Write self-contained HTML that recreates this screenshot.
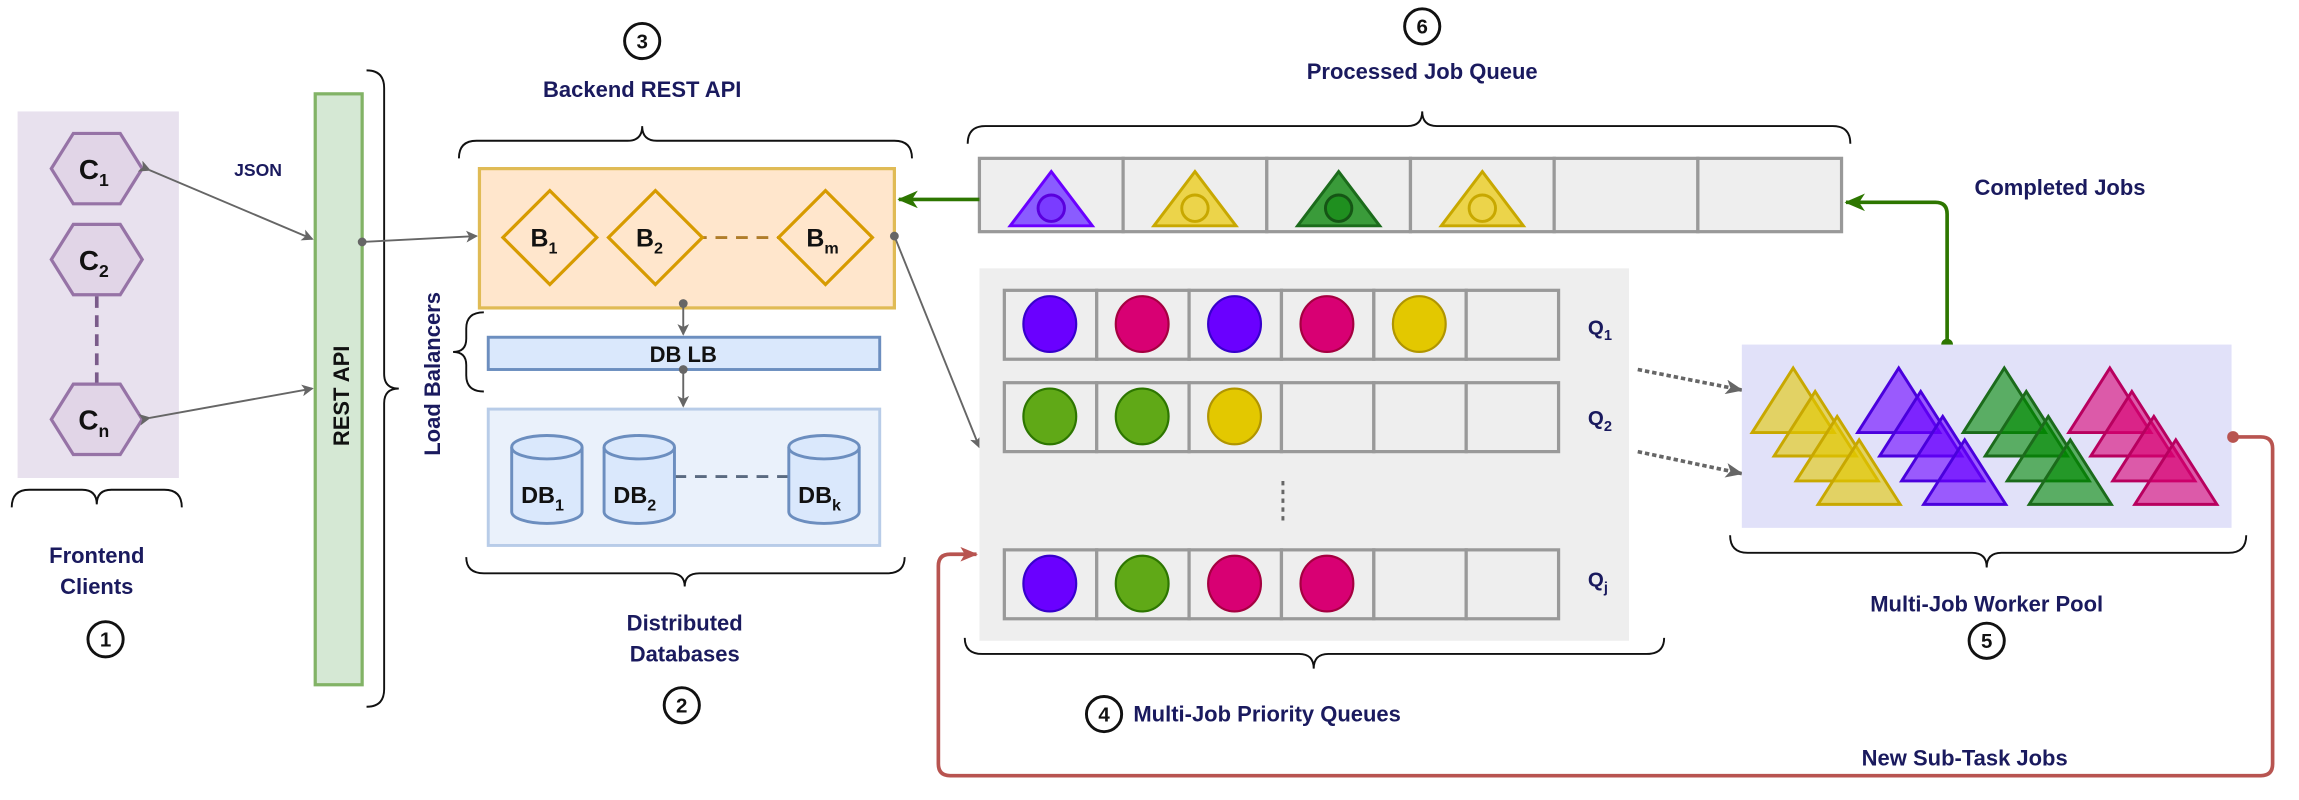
<!DOCTYPE html>
<html><head><meta charset="utf-8"><style>
html,body{margin:0;padding:0;background:#fff;}
svg{display:block;}
text{font-family:"Liberation Sans",sans-serif;font-weight:bold;}
</style></head><body>
<svg width="2299" height="800" viewBox="0 0 1568 545.6" preserveAspectRatio="none" xmlns="http://www.w3.org/2000/svg">
<defs>
<marker id="ag" markerWidth="8" markerHeight="8" refX="7" refY="4" orient="auto" markerUnits="userSpaceOnUse"><path d="M0,0 L8,4 L0,8 L2,4z" fill="#666"/></marker>
<marker id="agr" markerWidth="12" markerHeight="10" refX="11" refY="5" orient="auto" markerUnits="userSpaceOnUse"><path d="M0,0 L12,5 L0,10 L3,5z" fill="#666"/></marker>
<marker id="agn" markerWidth="14" markerHeight="12" refX="13" refY="6" orient="auto" markerUnits="userSpaceOnUse"><path d="M0,0 L14,6 L0,12 L4,6z" fill="#2d7600"/></marker>
<marker id="ar" markerWidth="12" markerHeight="10" refX="11" refY="5" orient="auto" markerUnits="userSpaceOnUse"><path d="M0,0 L12,5 L0,10 L3,5z" fill="#b85450"/></marker>
</defs>
<g fill="none" stroke="#111" stroke-width="1.3">
<path d="M8,346 Q8,334 20,334 L56,334 Q66,334 66,344 Q66,334 76,334 L112,334 Q124,334 124,346"/>
<path d="M250,48 Q262,48 262,60 L262,255 Q262,265 272,265 Q262,265 262,275 L262,470 Q262,482 250,482"/>
<path d="M313,108 Q313,96 325,96 L428,96 Q438,96 438,86 Q438,96 448,96 L610,96 Q622,96 622,108"/>
<path d="M330,213 Q318,213 318,224 L318,231 Q318,240 309,240 Q318,240 318,249 L318,256 Q318,267 330,267"/>
<path d="M318,380 Q318,391 330,391 L457,391 Q467,391 467,400 Q467,391 477,391 L605,391 Q617,391 617,380"/>
<path d="M660,98 Q660,86 672,86 L960,86 Q970,86 970,76 Q970,86 980,86 L1250,86 Q1262,86 1262,98"/>
<path d="M658,435 Q658,446 670,446 L886,446 Q896,446 896,456 Q896,446 906,446 L1123,446 Q1135,446 1135,435"/>
<path d="M1180,365 Q1180,377 1192,377 L1345,377 Q1355,377 1355,387 Q1355,377 1365,377 L1520,377 Q1532,377 1532,365"/>
</g>
<rect x="12" y="76" width="110" height="250" fill="#e8e1ee"/>
<line x1="66" y1="202" x2="66" y2="262" stroke="#7a5b8a" stroke-width="2.5" stroke-dasharray="8,5"/>
<g fill="#e1d5e7" stroke="#9673a6" stroke-width="2.2">
<polygon points="35,115 50,91 82,91 97,115 82,139 50,139"/>
<polygon points="35,177 50,153 82,153 97,177 82,201 50,201"/>
<polygon points="35,286 50,262 82,262 97,286 82,310 50,310"/>
</g>
<g fill="#111" font-size="19" text-anchor="middle">
<text x="64" y="122">C<tspan font-size="12" dy="5">1</tspan></text>
<text x="64" y="184">C<tspan font-size="12" dy="5">2</tspan></text>
<text x="64" y="293">C<tspan font-size="12" dy="5">n</tspan></text>
</g>
<text x="66" y="384" font-size="15" fill="#1a1a5e" text-anchor="middle">Frontend</text>
<text x="66" y="405" font-size="15" fill="#1a1a5e" text-anchor="middle">Clients</text>
<rect x="215" y="64" width="32" height="403" fill="#d5e8d4" stroke="#82b366" stroke-width="2.2"/>
<text transform="translate(238,270) rotate(-90)" font-size="15" fill="#111" text-anchor="middle">REST API</text>
<text transform="translate(300,255) rotate(-90)" font-size="15" fill="#1a1a5e" text-anchor="middle">Load Balancers</text>
<text x="176" y="120" font-size="12" fill="#1a1a5e" text-anchor="middle">JSON</text>
<line x1="102" y1="116" x2="213" y2="163" stroke="#666" stroke-width="1.3" marker-end="url(#ag)" marker-start="url(#ag)"/>
<line x1="102" y1="285" x2="213" y2="265" stroke="#666" stroke-width="1.3" marker-end="url(#ag)" marker-start="url(#ag)"/>
<line x1="247" y1="165" x2="325" y2="161" stroke="#666" stroke-width="1.3" marker-end="url(#ag)"/>
<circle cx="247" cy="165" r="3" fill="#666"/>
<text x="438" y="66" font-size="15" fill="#1a1a5e" text-anchor="middle">Backend REST API</text>
<rect x="327" y="115" width="283" height="95" fill="#ffe6cc" stroke="#e0bb55" stroke-width="2.2"/>
<line x1="474" y1="162" x2="540" y2="162" stroke="#b07d2a" stroke-width="2" stroke-dasharray="8,6"/>
<g fill="#ffe6cc" stroke="#d79b00" stroke-width="2.2">
<polygon points="375,130 407,162 375,194 343,162"/>
<polygon points="447,130 479,162 447,194 415,162"/>
<polygon points="563,130 595,162 563,194 531,162"/>
</g>
<g fill="#111" font-size="17" text-anchor="middle">
<text x="371" y="168">B<tspan font-size="11" dy="5">1</tspan></text>
<text x="443" y="168">B<tspan font-size="11" dy="5">2</tspan></text>
<text x="561" y="168">B<tspan font-size="11" dy="5">m</tspan></text>
</g>
<line x1="610" y1="161" x2="668" y2="305" stroke="#666" stroke-width="1.3" marker-end="url(#ag)"/>
<circle cx="610" cy="161" r="3" fill="#666"/>
<line x1="466" y1="207" x2="466" y2="228" stroke="#666" stroke-width="1.3" marker-end="url(#ag)"/>
<circle cx="466" cy="207" r="3" fill="#666"/>
<rect x="333" y="230" width="267" height="22" fill="#dae8fc" stroke="#6c8ebf" stroke-width="2"/>
<text x="466" y="247" font-size="15" fill="#111" text-anchor="middle">DB LB</text>
<line x1="466" y1="252" x2="466" y2="277" stroke="#666" stroke-width="1.3" marker-end="url(#ag)"/>
<circle cx="466" cy="252" r="3" fill="#666"/>
<rect x="333" y="279" width="267" height="93" fill="#eaf1fb" stroke="#b8cce8" stroke-width="2"/>
<line x1="460" y1="325" x2="538" y2="325" stroke="#5a6a80" stroke-width="2" stroke-dasharray="8,6"/>
<g fill="#dae8fc" stroke="#6c8ebf" stroke-width="2">
<path d="M349,305 L349,349 A24,8 0 0 0 397,349 L397,305"/><ellipse cx="373" cy="305" rx="24" ry="8"/>
<path d="M412,305 L412,349 A24,8 0 0 0 460,349 L460,305"/><ellipse cx="436" cy="305" rx="24" ry="8"/>
<path d="M538,305 L538,349 A24,8 0 0 0 586,349 L586,305"/><ellipse cx="562" cy="305" rx="24" ry="8"/>
</g>
<g fill="#111" font-size="16" text-anchor="middle">
<text x="370" y="343">DB<tspan font-size="11" dy="5">1</tspan></text>
<text x="433" y="343">DB<tspan font-size="11" dy="5">2</tspan></text>
<text x="559" y="343">DB<tspan font-size="11" dy="5">k</tspan></text>
</g>
<text x="467" y="430" font-size="15" fill="#1a1a5e" text-anchor="middle">Distributed</text>
<text x="467" y="451" font-size="15" fill="#1a1a5e" text-anchor="middle">Databases</text>
<g fill="#fff" stroke="#111" stroke-width="2">
<circle cx="72" cy="436" r="12"/><circle cx="465" cy="481" r="12"/><circle cx="438" cy="28" r="12"/>
<circle cx="753" cy="487" r="12"/><circle cx="1355" cy="437" r="12"/><circle cx="970" cy="18" r="12"/>
</g>
<g fill="#111" font-size="14" text-anchor="middle" font-weight="bold">
<text x="72" y="441">1</text><text x="465" y="486">2</text><text x="438" y="33">3</text>
<text x="753" y="492">4</text><text x="1355" y="442">5</text><text x="970" y="23">6</text>
</g>
<text x="970" y="54" font-size="15" fill="#1a1a5e" text-anchor="middle">Processed Job Queue</text>
<text x="773" y="492" font-size="15" fill="#1a1a5e">Multi-Job Priority Queues</text>
<text x="1355" y="417" font-size="15" fill="#1a1a5e" text-anchor="middle">Multi-Job Worker Pool</text>
<text x="1405" y="133" font-size="15" fill="#1a1a5e" text-anchor="middle">Completed Jobs</text>
<text x="1340" y="522" font-size="15" fill="#1a1a5e" text-anchor="middle">New Sub-Task Jobs</text>
<g fill="#eeeeee" stroke="#999" stroke-width="2.2">
<rect x="668" y="108" width="98" height="50"/><rect x="766" y="108" width="98" height="50"/><rect x="864" y="108" width="98" height="50"/>
<rect x="962" y="108" width="98" height="50"/><rect x="1060" y="108" width="98" height="50"/><rect x="1158" y="108" width="98" height="50"/>
</g>
<g stroke-width="2">
<polygon points="717,117 745,154 689,154" fill="#8a5cff" stroke="#6a00ff"/><circle cx="717" cy="142" r="9" fill="#7a3cff" stroke="#5a00dd"/>
<polygon points="815,117 843,154 787,154" fill="#ecd44a" stroke="#c8a800"/><circle cx="815" cy="142" r="9" fill="#ecd44a" stroke="#c8a800"/>
<polygon points="913,117 941,154 885,154" fill="#3a9b3a" stroke="#1b6b1b"/><circle cx="913" cy="142" r="9" fill="#1f8f1f" stroke="#155515"/>
<polygon points="1011,117 1039,154 983,154" fill="#ecd44a" stroke="#c8a800"/><circle cx="1011" cy="142" r="9" fill="#ecd44a" stroke="#c8a800"/>
</g>
<line x1="668" y1="136" x2="613" y2="136" stroke="#2d7600" stroke-width="2.5" marker-end="url(#agn)"/>
<path d="M1328,235 L1328,146 Q1328,138 1320,138 L1259,138" fill="none" stroke="#2d7600" stroke-width="2.5" marker-end="url(#agn)"/>
<circle cx="1328" cy="235" r="4" fill="#2d7600"/>
<rect x="668" y="183" width="443" height="254" fill="#eeeeee"/>
<g fill="#eeeeee" stroke="#999" stroke-width="2.2">
<rect x="685" y="198" width="63" height="47"/><rect x="748" y="198" width="63" height="47"/><rect x="811" y="198" width="63" height="47"/><rect x="874" y="198" width="63" height="47"/><rect x="937" y="198" width="63" height="47"/><rect x="1000" y="198" width="63" height="47"/>
<rect x="685" y="261" width="63" height="47"/><rect x="748" y="261" width="63" height="47"/><rect x="811" y="261" width="63" height="47"/><rect x="874" y="261" width="63" height="47"/><rect x="937" y="261" width="63" height="47"/><rect x="1000" y="261" width="63" height="47"/>
<rect x="685" y="375" width="63" height="47"/><rect x="748" y="375" width="63" height="47"/><rect x="811" y="375" width="63" height="47"/><rect x="874" y="375" width="63" height="47"/><rect x="937" y="375" width="63" height="47"/><rect x="1000" y="375" width="63" height="47"/>
</g>
<g stroke-width="1.5">
<ellipse cx="716" cy="221" rx="18" ry="19" fill="#6a00ff" stroke="#3700cc"/>
<ellipse cx="779" cy="221" rx="18" ry="19" fill="#d80073" stroke="#a50040"/>
<ellipse cx="842" cy="221" rx="18" ry="19" fill="#6a00ff" stroke="#3700cc"/>
<ellipse cx="905" cy="221" rx="18" ry="19" fill="#d80073" stroke="#a50040"/>
<ellipse cx="968" cy="221" rx="18" ry="19" fill="#e3c800" stroke="#b09500"/>
<ellipse cx="716" cy="284" rx="18" ry="19" fill="#60a917" stroke="#2d7600"/>
<ellipse cx="779" cy="284" rx="18" ry="19" fill="#60a917" stroke="#2d7600"/>
<ellipse cx="842" cy="284" rx="18" ry="19" fill="#e3c800" stroke="#b09500"/>
<ellipse cx="716" cy="398" rx="18" ry="19" fill="#6a00ff" stroke="#3700cc"/>
<ellipse cx="779" cy="398" rx="18" ry="19" fill="#60a917" stroke="#2d7600"/>
<ellipse cx="842" cy="398" rx="18" ry="19" fill="#d80073" stroke="#a50040"/>
<ellipse cx="905" cy="398" rx="18" ry="19" fill="#d80073" stroke="#a50040"/>
</g>
<line x1="875" y1="328" x2="875" y2="358" stroke="#666" stroke-width="2" stroke-dasharray="3,3"/>
<g fill="#1a1a5e" font-size="14">
<text x="1083" y="228">Q<tspan font-size="10" dy="4">1</tspan></text>
<text x="1083" y="290">Q<tspan font-size="10" dy="4">2</tspan></text>
<text x="1083" y="400">Q<tspan font-size="10" dy="4">j</tspan></text>
</g>
<line x1="1117" y1="252" x2="1188" y2="266" stroke="#666" stroke-width="2.5" stroke-dasharray="3,2" marker-end="url(#agr)"/>
<line x1="1117" y1="308" x2="1188" y2="323" stroke="#666" stroke-width="2.5" stroke-dasharray="3,2" marker-end="url(#agr)"/>
<rect x="1188" y="235" width="334" height="125" fill="#e1e1f9"/>
<g stroke-width="2" fill-opacity="0.6">
<g fill="#e3c800" stroke="#c8a800">
<polygon points="1223,251 1251,295 1195,295"/><polygon points="1238,267 1266,311 1210,311"/><polygon points="1253,284 1281,328 1225,328"/><polygon points="1268,300 1296,344 1240,344"/>
</g>
<g fill="#6a00ff" stroke="#4a00dd">
<polygon points="1295,251 1323,295 1267,295"/><polygon points="1310,267 1338,311 1282,311"/><polygon points="1325,284 1353,328 1297,328"/><polygon points="1340,300 1368,344 1312,344"/>
</g>
<g fill="#008a00" stroke="#1b6b1b">
<polygon points="1367,251 1395,295 1339,295"/><polygon points="1382,267 1410,311 1354,311"/><polygon points="1397,284 1425,328 1369,328"/><polygon points="1412,300 1440,344 1384,344"/>
</g>
<g fill="#d80073" stroke="#b8005f">
<polygon points="1439,251 1467,295 1411,295"/><polygon points="1454,267 1482,311 1426,311"/><polygon points="1469,284 1497,328 1441,328"/><polygon points="1484,300 1512,344 1456,344"/>
</g>
</g>
<path d="M1523,298 L1542,298 Q1550,298 1550,306 L1550,521 Q1550,529 1542,529 L648,529 Q640,529 640,521 L640,386 Q640,378 648,378 L666,378" fill="none" stroke="#b85450" stroke-width="2.5" marker-end="url(#ar)"/>
<circle cx="1523" cy="298" r="4" fill="#b85450"/>
</svg>
</body></html>
